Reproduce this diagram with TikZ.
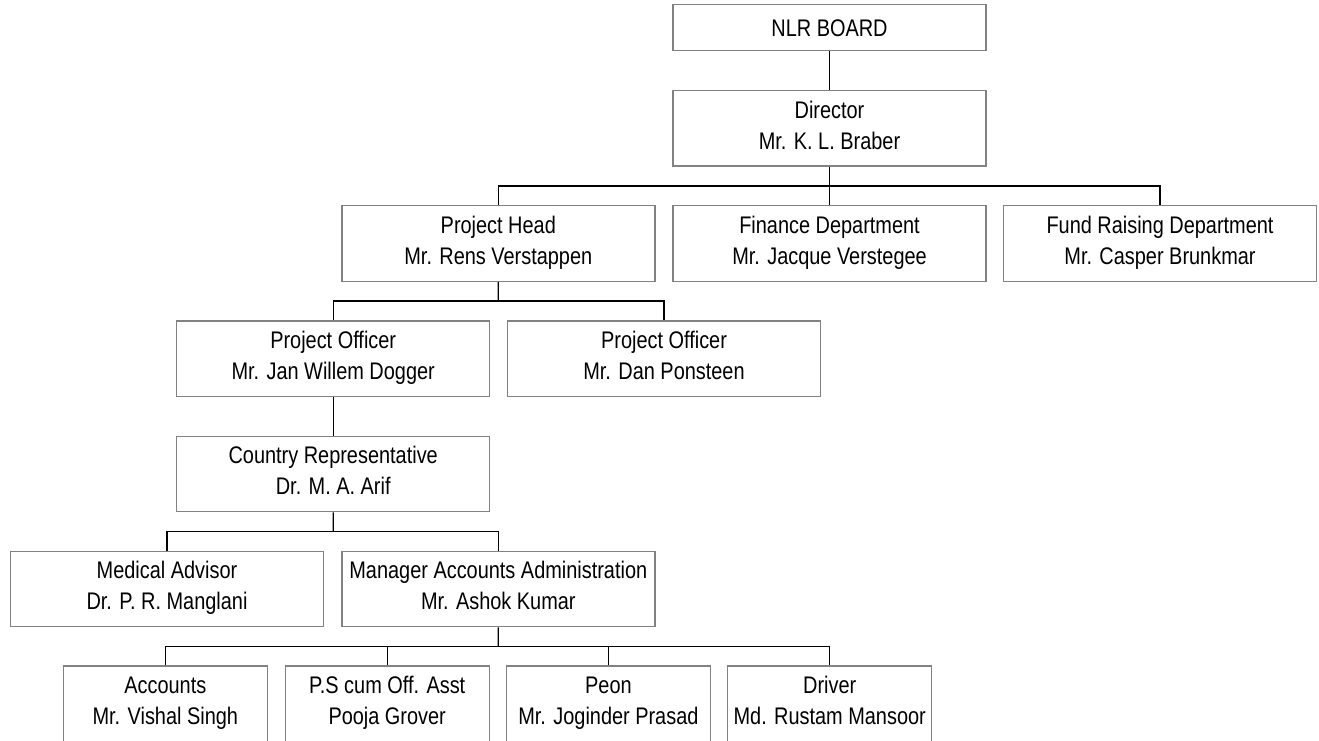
\documentclass[tikz,border=0pt]{standalone}
\usepackage{fontspec}
\setmainfont{Liberation Sans}[FakeStretch=0.83]
\usetikzlibrary{calc}
\definecolor{boxgray}{RGB}{130,130,130}
\newcommand{\rowstrut}{\rule[-6.8pt]{0pt}{30.8pt}}
\tikzset{
  unit/.style={draw=boxgray, line width=1.4pt, minimum width=313pt, minimum height=75.5pt,
    inner sep=0pt, align=center, font=\fontsize{24}{31}\selectfont,
    execute at begin node=\rowstrut, execute at end node=\rowstrut},
  staff/.style={unit, minimum width=204pt},
  link/.style={line width=1.3pt, black}
}

\begin{document}
\begin{tikzpicture}[x=1pt, y=-1pt]
			%%%%% START %%%%%
			\useasboundingbox (0, 0) rectangle (1319, 740);
			
			\node[unit, minimum height=46pt] (board) at (829.5, 27.6) {NLR BOARD};
			\node[unit] (dir) at (829.5, 128.3) {Director\\Mr. K. L. Braber};
			
			\node[unit] (head) at (498.3, 243.5) {Project Head\\Mr. Rens Verstappen};
			\node[unit] (fin) at (829.5, 243.5) {Finance Department\\Mr. Jacque Verstegee};
			\node[unit] (fund) at (1160, 243.5) {Fund Raising Department\\Mr. Casper Brunkmar};
			
			\node[unit] (po1) at (333.2, 358.7) {Project Officer\\Mr. Jan Willem Dogger};
			\node[unit] (po2) at (664, 358.7) {Project Officer\\Mr. Dan Ponsteen};
			
			\node[unit] (rep) at (333.2, 474) {Country Representative\\Dr. M. A. Arif};
			
			\node[unit] (med) at (167, 589) {Medical Advisor\\Dr. P. R. Manglani};
			\node[unit] (mgr) at (498.3, 589) {Manager Accounts Administration\\Mr. Ashok Kumar};
			
			\node[staff] (acc) at (165.3, 703.8) {Accounts\\Mr. Vishal Singh};
			\node[staff] (ps) at (387.2, 703.8) {P.S cum Off. Asst\\Pooja Grover};
			\node[staff] (peon) at (608.4, 703.8) {Peon\\Mr. Joginder Prasad};
			\node[staff] (drv) at (829.7, 703.8) {Driver\\Md. Rustam Mansoor};
			
			% bus lines half way between the rows
			\coordinate (b1) at ($(dir.south)!0.5!(fin.north)$);
			\coordinate (b2) at ($(head.south)!0.5!(head.south |- po1.north)$);
			\coordinate (b3) at ($(rep.south)!0.5!(rep.south |- med.north)$);
			\coordinate (b4) at ($(mgr.south)!0.5!(mgr.south |- acc.north)$);
			
			\draw[link] (board) -- (dir);
			\draw[link] (dir.south) -- (fin.north);
			\draw[link] (head.north) |- (b1) -| (fund.north);
			
			\draw[link] (head.south) -- (b2);
			\draw[link] (po1.north) |- (b2) -| (po2.north);
			
			\draw[link] (po1) -- (rep);
			
			\draw[link] (rep.south) -- (b3);
			\draw[link] (med.north) |- (b3) -| (mgr.north);
			
			\draw[link] (mgr.south) -- (b4);
			\draw[link] (acc.north) |- (b4) -| (drv.north);
			\draw[link] (ps.north) -- (ps.north |- b4);
			\draw[link] (peon.north) -- (peon.north |- b4);
			
			%%%%% END %%%%%
\end{tikzpicture}
\end{document}
